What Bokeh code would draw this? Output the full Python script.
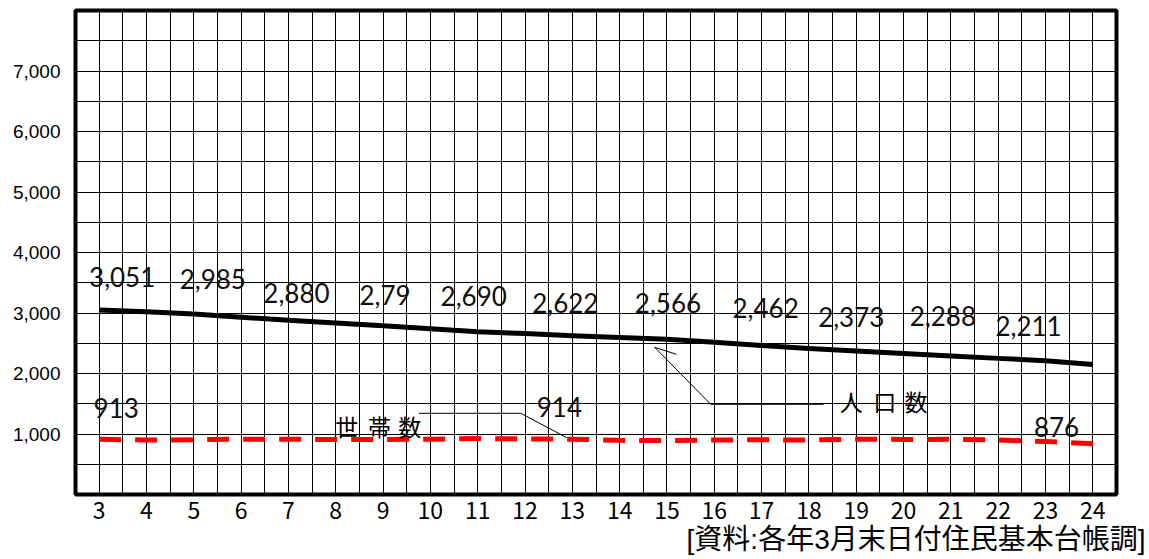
from bokeh.plotting import figure
from bokeh.models import Range1d, FixedTicker, NumeralTickFormatter, Title, ColumnDataSource
from bokeh.core.properties import value
from bokeh.embed import file_html
from bokeh.resources import INLINE

# Heisei years 3..24, end of March each year
years = list(range(3, 25))
population = [3051, 3020, 2985, 2930, 2880, 2835, 2790, 2740, 2690, 2660, 2622,
              2595, 2566, 2515, 2462, 2415, 2373, 2330, 2288, 2250, 2211, 2150]
households = [913, 900, 905, 915, 912, 910, 910, 915, 925, 920, 914,
              895, 890, 900, 905, 900, 915, 910, 912, 900, 876, 840]

pop_label_years = [3, 5, 7, 9, 11, 13, 15, 17, 19, 21, 23]
hh_label_years = [3, 13, 23]

y_tick_values = [1000, 2000, 3000, 4000, 5000, 6000, 7000]
source_note = "[資料:各年3月末日付住民基本台帳調]"

# label placement (pixel offsets from the point they describe)
pop_dx = [23, 19, 8, 2, -4, -7, 1, 4, -5, -8, -17]
pop_dy = [-33, -35, -27, -31, -36, -33, -36, -38, -34, -40, -35]
hh_dx = [17, -13, 11]
hh_dy = [-31, -32, -15]

p = figure(width=1149, height=559, output_backend="svg", toolbar_location=None,
           x_range=Range1d(2.5, 24.5), y_range=Range1d(0, 8000),
           min_border_left=75, min_border_right=33, min_border_top=10,
           min_border_bottom=65)
p.background_fill_color = "white"
p.border_fill_color = "white"
p.outline_line_color = "black"
p.outline_line_width = 4

# fine grid: half-year columns, 500-person rows
p.xgrid.ticker = FixedTicker(ticks=[2.5 + 0.5 * i for i in range(1, 44)])
p.ygrid.ticker = FixedTicker(ticks=[500 * i for i in range(1, 16)])
for g in (p.xgrid, p.ygrid):
    g.grid_line_color = "black"
    g.grid_line_alpha = 1.0
    g.grid_line_width = 1

p.xaxis.ticker = FixedTicker(ticks=years)
p.xaxis.major_label_text_font = "Noto Sans CJK JP"
p.xaxis.major_label_text_font_size = "23px"
p.xaxis.major_label_standoff = 1
p.yaxis.ticker = FixedTicker(ticks=y_tick_values)
p.yaxis.formatter = NumeralTickFormatter(format="0,0")
p.yaxis.major_label_text_font = "Liberation Sans"
p.yaxis.major_label_text_font_size = "19px"
p.yaxis.major_label_standoff = 9
for ax in (p.xaxis, p.yaxis):
    ax.axis_line_color = None
    ax.major_tick_line_color = None
    ax.minor_tick_line_color = None
    ax.major_label_text_color = "black"

# source note under the year axis, flush with the right edge of the page
p.add_layout(Title(text=source_note, align="right", offset=-29, standoff=0,
                   text_font="Liberation Sans, Noto Sans CJK JP",
                   text_font_size="28px", text_font_style="normal",
                   text_color="black"), "below")

# series
p.line(years, households, line_color="#ff0000", line_width=5, line_dash="22 14",
       line_cap="butt")
p.line(years, population, line_color="black", line_width=5, line_join="round")

# value labels
pop_vals = [population[years.index(y)] for y in pop_label_years]
pop_text = [f"{v:,}" for v in pop_vals]
pop_text[3] = pop_text[3][:4]  # the H9 box is too narrow for its last digit
hh_vals = [households[years.index(y)] for y in hh_label_years]
hh_text = [f"{v:,}" for v in hh_vals]

lab_src = ColumnDataSource(dict(
    x=pop_label_years + hh_label_years,
    y=pop_vals + hh_vals,
    t=pop_text + hh_text,
    dx=pop_dx + hh_dx,
    dy=pop_dy + hh_dy,
))
p.text(x="x", y="y", text="t", x_offset="dx", y_offset="dy", source=lab_src,
       text_font=value("Lato"), text_font_size="26px", text_align="center",
       text_baseline="middle", text_color="#111111")

# series name callouts with leader lines
p.line([9.756, 11.911, 12.882], [1342, 1342, 939], line_color="black", line_width=1)
p.line([18.31, 15.923, 14.740, 15.200], [1491, 1491, 2433, 2317],
       line_color="black", line_width=1)
p.text(x=[8.235, 8.922, 9.566], y=[1132] * 3, text=["世", "帯", "数"],
       text_font=value("Noto Sans CJK JP"), text_font_size="23px",
       text_align="center", text_baseline="middle", text_color="black")
p.text(x=[18.892, 19.600, 20.265], y=[1545] * 3, text=["人", "口", "数"],
       text_font=value("Noto Sans CJK JP"), text_font_size="23px",
       text_align="center", text_baseline="middle", text_color="black")

open("out.html", "w").write(file_html(p, INLINE))
